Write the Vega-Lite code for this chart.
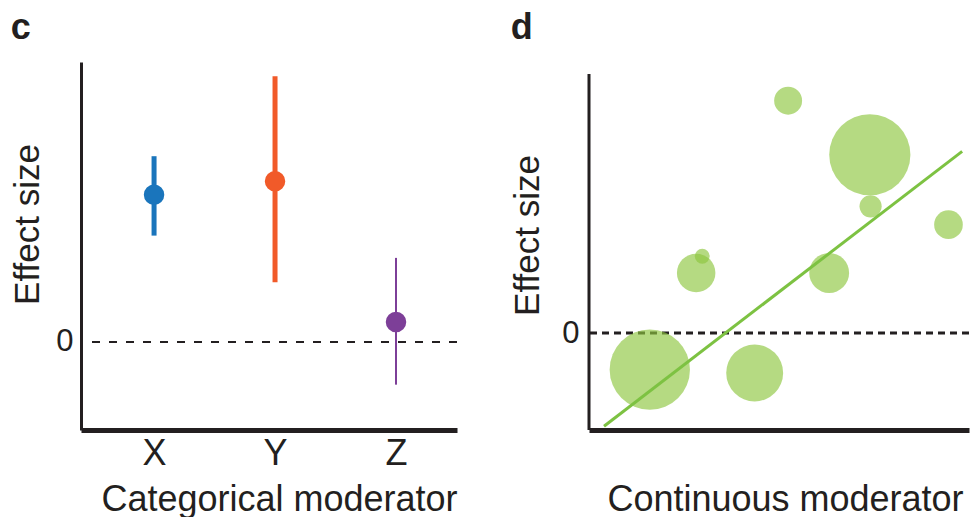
{
  "$schema": "https://vega.github.io/schema/vega-lite/v6.json",
  "padding": {"left": 10, "top": 10, "right": 0, "bottom": 0},
  "config": {
    "view": {"stroke": null},
    "font": "Liberation Sans",
    "axis": {"grid": false, "ticks": false, "domainColor": "#231f20", "labelColor": "#231f20", "titleColor": "#231f20", "labelFont": "Liberation Sans", "titleFont": "Liberation Sans", "titleFontWeight": "normal"},
    "title": {"anchor": "start", "fontSize": 36, "fontWeight": "bold", "color": "#231f20", "frame": "bounds", "font": "Liberation Sans"}
  },
  "spacing": 52,
  "hconcat": [
    {
      "title": {"text": "c", "offset": 15},
      "width": 376,
      "height": 368,
      "layer": [
        {
          "data": {"values": [{}]},
          "mark": {"type": "rule", "strokeDash": [8, 9], "strokeWidth": 2, "color": "#231f20"},
          "encoding": {
            "y": {"datum": 0, "type": "quantitative", "scale": {"domain": [-1, 3.18], "zero": false, "nice": false},
              "axis": {"values": [0], "format": "d", "title": "Effect size", "titleFontSize": 35, "labelFontSize": 31, "labelPadding": 8, "titlePadding": 10, "titleY": 162, "domainWidth": 3}}
          }
        },
        {
          "data": {"values": [
            {"moderator": "X", "effect": 1.673, "lower": 1.208, "upper": 2.11},
            {"moderator": "Y", "effect": 1.826, "lower": 0.678, "upper": 3.019},
            {"moderator": "Z", "effect": 0.227, "lower": -0.485, "upper": 0.955}
          ]},
          "layer": [
            {
              "mark": {"type": "rule"},
              "encoding": {
                "x": {"field": "moderator", "type": "nominal", "scale": {"type": "point", "padding": 0.554, "align": 0.545},
                  "axis": {"title": "Categorical moderator", "titleFontSize": 36, "titleX": 198, "labelFontSize": 36, "labelPadding": 6, "titlePadding": 11, "domainWidth": 5, "labelAngle": 0}},
                "y": {"field": "lower", "type": "quantitative", "scale": {"domain": [-1, 3.18], "zero": false, "nice": false}},
                "y2": {"field": "upper"},
                "color": {"field": "moderator", "type": "nominal", "scale": {"domain": ["X", "Y", "Z"], "range": ["#1a75bc", "#f15a29", "#7d3f98"]}, "legend": null},
                "strokeWidth": {"condition": {"test": "datum.moderator === 'Z'", "value": 2}, "value": 5}
              }
            },
            {
              "mark": {"type": "circle", "opacity": 1, "size": 420},
              "encoding": {
                "x": {"field": "moderator", "type": "nominal"},
                "y": {"field": "effect", "type": "quantitative", "scale": {"domain": [-1, 3.18], "zero": false, "nice": false}},
                "color": {"field": "moderator", "type": "nominal", "legend": null}
              }
            }
          ]
        }
      ]
    },
    {
      "title": {"text": "d", "offset": 15},
      "width": 380,
      "height": 368,
      "layer": [
        {
          "data": {"values": [{}]},
          "mark": {"type": "rule", "strokeDash": [7, 5], "strokeWidth": 3, "color": "#231f20"},
          "encoding": {
            "y": {"datum": 0, "type": "quantitative", "scale": {"domain": [-1, 2.794], "zero": false, "nice": false},
              "axis": {"values": [0], "format": "d", "title": "Effect size", "titleFontSize": 35, "labelFontSize": 31, "labelPadding": 10, "titlePadding": 16, "titleY": 173, "domain": false}}
          }
        },
        {
          "data": {"values": [{}]},
          "mark": {"type": "rule", "strokeWidth": 3, "color": "#231f20"},
          "encoding": {
            "x": {"datum": 0, "type": "quantitative", "scale": {"domain": [0, 10], "nice": false, "zero": false}},
            "y": {"datum": -1, "type": "quantitative", "scale": {"domain": [-1, 2.794], "zero": false, "nice": false}},
            "y2": {"datum": 2.67}
          }
        },
        {
          "data": {"values": [
            {"moderator": 5.24, "effect": 2.395, "weight": 7.8},
            {"moderator": 7.39, "effect": 1.838, "weight": 65.9},
            {"moderator": 7.41, "effect": 1.306, "weight": 4.9},
            {"moderator": 9.46, "effect": 1.117, "weight": 8.2},
            {"moderator": 2.82, "effect": 0.619, "weight": 14.8},
            {"moderator": 2.98, "effect": 0.791, "weight": 2.2},
            {"moderator": 6.32, "effect": 0.619, "weight": 15.9},
            {"moderator": 1.60, "effect": -0.378, "weight": 64.5},
            {"moderator": 4.36, "effect": -0.412, "weight": 32.4}
          ]},
          "mark": {"type": "circle", "color": "#8dc63f", "opacity": 0.65},
          "encoding": {
            "x": {"field": "moderator", "type": "quantitative", "scale": {"domain": [0, 10], "nice": false, "zero": false},
              "axis": {"title": "Continuous moderator", "labels": false, "titleFontSize": 36, "titleX": 196, "titlePadding": 52, "domainWidth": 5}},
            "y": {"field": "effect", "type": "quantitative", "scale": {"domain": [-1, 2.794], "zero": false, "nice": false}},
            "size": {"field": "weight", "type": "quantitative", "scale": {"domain": [0, 100], "range": [0, 10000]}, "legend": null}
          }
        },
        {
          "data": {"values": [
            {"moderator": 0.395, "fit": -0.962},
            {"moderator": 9.82, "fit": 1.873}
          ]},
          "mark": {"type": "line", "color": "#7dc242", "strokeWidth": 3},
          "encoding": {
            "x": {"field": "moderator", "type": "quantitative", "scale": {"domain": [0, 10], "nice": false, "zero": false}},
            "y": {"field": "fit", "type": "quantitative", "scale": {"domain": [-1, 2.794], "zero": false, "nice": false}}
          }
        }
      ]
    }
  ]
}
